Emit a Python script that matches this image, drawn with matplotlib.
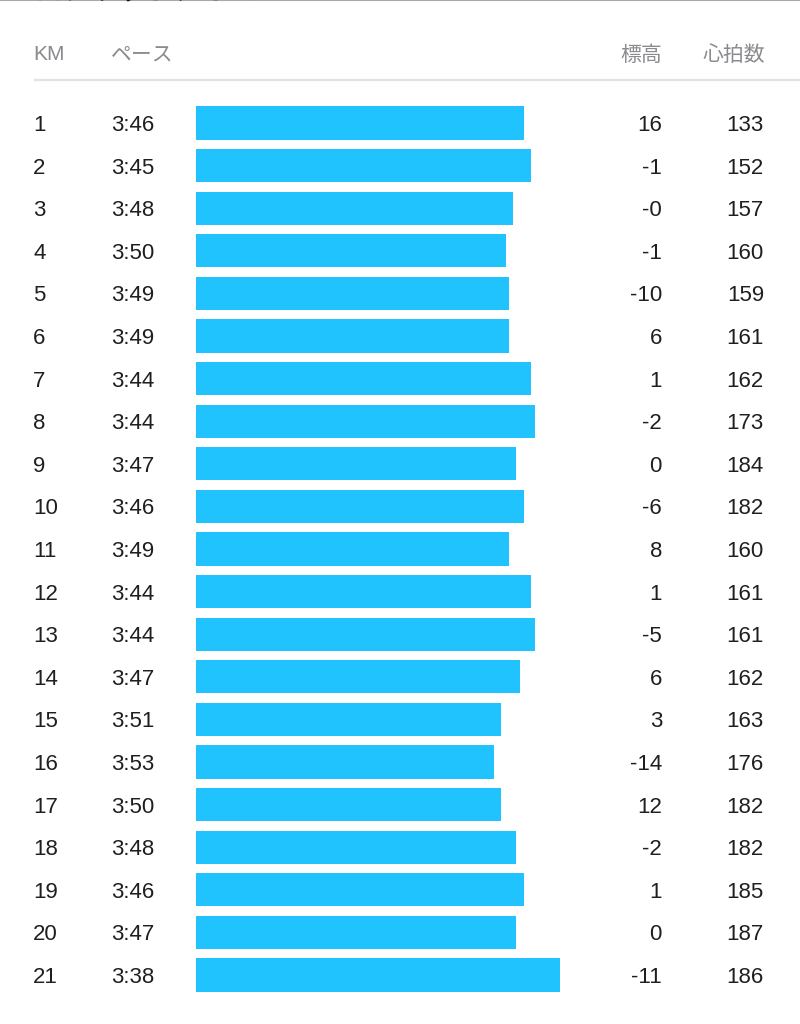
import matplotlib
matplotlib.use("Agg")
import matplotlib.pyplot as plt

plt.rcParams['font.family'] = ['Liberation Sans', 'Noto Sans CJK JP', 'DejaVu Sans']

km = list(range(1, 22))
pace_labels = ["3:46", "3:45", "3:48", "3:50", "3:49", "3:49", "3:44", "3:44", "3:47", "3:46", "3:49",
               "3:44", "3:44", "3:47", "3:51", "3:53", "3:50", "3:48", "3:46", "3:47", "3:38"]
# pace in seconds per km
pace_sec = [226.2, 224.6, 228.7, 230.3, 229.6, 229.6, 224.6, 223.7, 228.0, 226.2, 229.6,
            224.6, 223.7, 227.1, 231.4, 233.0, 231.4, 228.0, 226.2, 228.0, 218.0]
elevation = ["16", "-1", "-0", "-1", "-10", "6", "1", "-2", "0", "-6", "8",
             "1", "-5", "6", "3", "-14", "12", "-2", "1", "0", "-11"]
heart_rate = [133, 152, 157, 160, 159, 161, 162, 173, 184, 182, 160,
              161, 161, 162, 163, 176, 182, 182, 185, 187, 186]
headers = ["KM", "ペース", "標高", "心拍数"]
bar_base = 300.7  # bar length = seconds faster than this pace

W, H = 800, 1024
row0, step = 123, 42.6
ytop = 1 - row0 / step
ybot = 1 + (H - row0) / step

fig = plt.figure(figsize=(W / 100, H / 100), dpi=100)

# text layer: x in pixels, y in row units
ax = fig.add_axes([0, 0, 1, 1])
ax.set_xlim(0, W)
ax.set_ylim(ybot, ytop)
ax.axis('off')

# bar layer
bx0, bx1 = 196, 600
bax = fig.add_axes([bx0 / W, 0, (bx1 - bx0) / W, 1])
bax.set_xlim(0, (bx1 - bx0) / 4.4)
bax.set_ylim(ybot, ytop)
bax.axis('off')
bax.barh(km, [bar_base - p for p in pace_sec], height=0.775, left=0, color='#21c3fe')

dy = 2.5 / step  # small downward nudge of the row texts
txt = dict(fontsize=16, color='#1f1f1f', va='center')
for i, k in enumerate(km):
    ax.text(33, k + dy, str(k), ha='left', **txt)
    ax.text(111, k + dy, pace_labels[i], ha='left', **txt)
    ax.text(662, k + dy, elevation[i], ha='right', **txt)
    ax.text(764, k + dy, str(heart_rate[i]), ha='right', **txt)

hy = 1 - (row0 - 55) / step
hdr = dict(fontsize=15, color='#8a8a8f', va='center')
ax.text(33, hy, headers[0], ha='left', **hdr)
ax.text(111, hy, headers[1], ha='left', **hdr)
ax.text(662, hy, headers[2], ha='right', **hdr)
ax.text(765, hy, headers[3], ha='right', **hdr)

# separator under header and thin line at the very top
ax.plot([34, W], [1 - (row0 - 80) / step] * 2, color='#e2e2e2', lw=1.6, solid_capstyle='butt')
ax.plot([0, W], [ytop + 0.01] * 2, color='#a8a8a8', lw=1.5)

# cut-off title above the visible area
ax.text(35, ytop - 0.02, "スプリットタイム", fontsize=20, fontweight='bold', color='#111111',
        ha='left', va='baseline', family=['Noto Sans CJK JP'])

fig.savefig("out.png", dpi=100)
